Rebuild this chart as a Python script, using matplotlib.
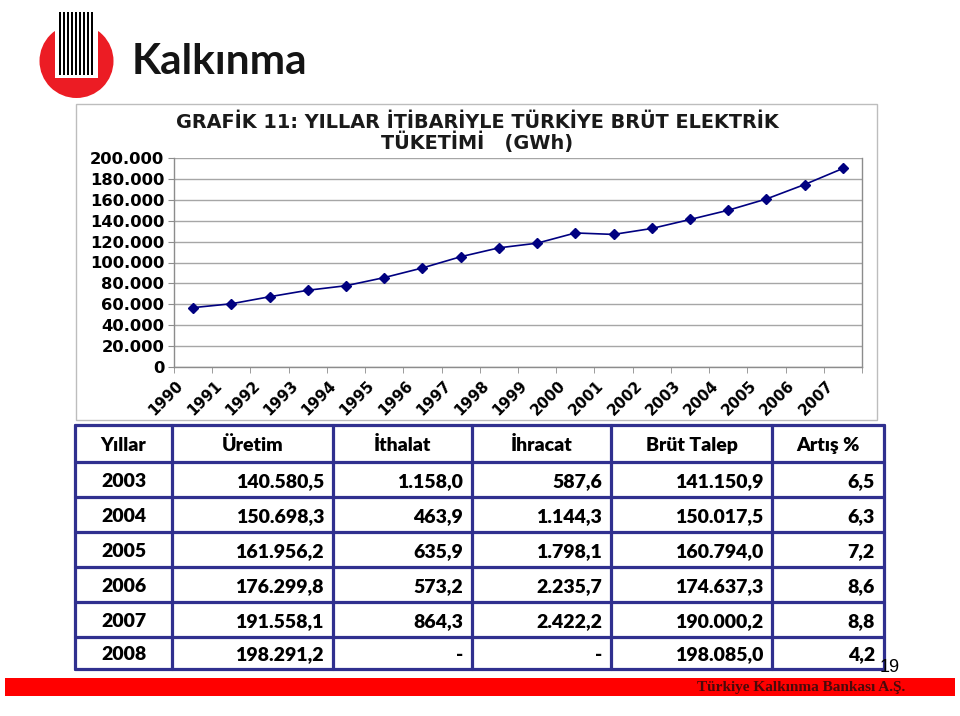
import matplotlib
matplotlib.use('Agg')
import matplotlib.pyplot as plt
from matplotlib.patches import Rectangle, Circle
from matplotlib.ticker import FuncFormatter
import matplotlib.transforms as mtransforms

# ---------------- data ----------------
years = [str(y) for y in range(1990, 2008)]
consumption = [56812, 60499, 67217, 73432, 77783, 85552, 94789, 105517, 114023,
               118485, 128276, 126871, 132553, 141151, 150018, 160794, 174637, 190000]
y_ticks = list(range(0, 200001, 20000))

chart_title_1 = 'GRAFİK 11: YILLAR İTİBARİYLE TÜRKİYE BRÜT ELEKTRİK'
chart_title_2 = 'TÜKETİMİ   (GWh)'

table_header = ['Yıllar', 'Üretim', 'İthalat', 'İhracat', 'Brüt Talep', 'Artış %']
table_years = ['2003', '2004', '2005', '2006', '2007', '2008']
uretim = ['140.580,5', '150.698,3', '161.956,2', '176.299,8', '191.558,1', '198.291,2']
ithalat = ['1.158,0', '463,9', '635,9', '573,2', '864,3', '-']
ihracat = ['587,6', '1.144,3', '1.798,1', '2.235,7', '2.422,2', '-']
brut_talep = ['141.150,9', '150.017,5', '160.794,0', '174.637,3', '190.000,2', '198.085,0']
artis = ['6,5', '6,3', '7,2', '8,6', '8,8', '4,2']

page_number = '19'
footer_text = 'Türkiye Kalkınma Bankası A.Ş.'
logo_text = 'Kalkınma'

# ---------------- figure ----------------
W, H = 960, 716
plt.rcParams['font.family'] = ['DejaVu Sans']
fig = plt.figure(figsize=(W / 100, H / 100), dpi=100)
fig.patch.set_facecolor('white')

bg = fig.add_axes([0, 0, 1, 1])
bg.set_xlim(0, W)
bg.set_ylim(H, 0)
bg.axis('off')

# logo
bg.add_patch(Circle((76.5, 61), 37, facecolor='#EC1C24', edgecolor='none'))
bg.add_patch(Rectangle((55, 10), 43, 68, facecolor='white', edgecolor='none'))
for i in range(9):
    bg.add_patch(Rectangle((58.8 + i * 4.0, 12), 2.2, 63, facecolor='black', edgecolor='none'))
bg.text(132, 74, logo_text, fontsize=30.5, fontweight='bold', family=['Lato', 'DejaVu Sans'],
        color='#141414', ha='left', va='baseline')

# chart frame
bg.add_patch(Rectangle((76, 104), 801, 316, facecolor='white', edgecolor='#BDBDBD', lw=1))
bg.text(477, 123, chart_title_1, fontsize=13.9, fontweight='bold', ha='center', va='center',
        color='#1a1a1a')
bg.text(477, 142, chart_title_2, fontsize=13.9, fontweight='bold', ha='center', va='center',
        color='#1a1a1a')

# ---------------- line chart ----------------
L, R, T, B = 174, 862, 158, 367
ax = fig.add_axes([L / W, 1 - B / H, (R - L) / W, (B - T) / H])
ax.set_facecolor('white')
x = list(range(len(years)))
ax.plot(x, consumption, color='#000080', lw=1.2, marker='D', ms=5,
        mfc='#000080', mec='#000080', zorder=3)
ax.set_xlim(-0.5, len(years) - 0.5)
ax.set_ylim(0, 200000)
ax.set_yticks(y_ticks)
ax.yaxis.set_major_formatter(FuncFormatter(lambda v, p: f'{int(v):,}'.replace(',', '.')))
ax.grid(axis='y', color='#A6A6A6', lw=1)
ax.set_axisbelow(True)
for s in ax.spines.values():
    s.set_color('#8C8C8C')
    s.set_linewidth(1)
ax.spines['top'].set_visible(False)

ax.set_xticks(x)
ax.set_xticklabels(years, rotation=45, ha='right', va='center', rotation_mode='anchor')
ax.set_xticks([i - 0.5 for i in range(len(years) + 1)], minor=True)
ax.tick_params(axis='x', which='major', length=0, pad=11.5, labelsize=10.8)
ax.tick_params(axis='x', which='minor', length=4, color='#8C8C8C')
ax.tick_params(axis='y', length=4, color='#8C8C8C', pad=3, labelsize=11.8)
off = mtransforms.ScaledTranslation(-0.12, 0, fig.dpi_scale_trans)
for lbl in ax.get_xticklabels():
    lbl.set_fontweight('bold')
    lbl.set_transform(lbl.get_transform() + off)
for lbl in ax.get_yticklabels():
    lbl.set_fontweight('bold')

# ---------------- table ----------------
col_x = [75, 172, 333, 472, 611, 772, 884]
row_y = [425, 462, 497, 532, 567, 602, 637, 669]
line_c = '#30308F'
lw_t = 2.3
for cx in col_x:
    bg.plot([cx, cx], [row_y[0], row_y[-1]], color=line_c, lw=lw_t, solid_capstyle='round')
for ry in row_y:
    bg.plot([col_x[0], col_x[-1]], [ry, ry], color=line_c, lw=lw_t, solid_capstyle='round')

tfont = dict(fontsize=14, fontweight='heavy', family=['Lato', 'DejaVu Sans'], color='black')
base_off = 7.5
for j, h in enumerate(table_header):
    bg.text((col_x[j] + col_x[j + 1]) / 2, (row_y[0] + row_y[1]) / 2 + base_off, h,
            ha='center', va='baseline', **tfont)

columns = [table_years, uretim, ithalat, ihracat, brut_talep, artis]
for j, col in enumerate(columns):
    for i, val in enumerate(col):
        yb = (row_y[i + 1] + row_y[i + 2]) / 2 + base_off
        if j == 0:
            bg.text((col_x[0] + col_x[1]) / 2, yb, val, ha='center', va='baseline', **tfont)
        else:
            bg.text(col_x[j + 1] - 9, yb, val, ha='right', va='baseline', **tfont)

# page number
bg.text(880, 667, page_number, fontsize=13, family=['Liberation Sans', 'DejaVu Sans'],
        ha='left', va='center', color='black')

# footer band
bg.add_patch(Rectangle((5, 678), 950, 18, facecolor='#FF0000', edgecolor='none'))
bg.text(905, 688, footer_text, fontsize=11, fontweight='bold',
        family=['Liberation Serif', 'DejaVu Serif'], color='#4A0A0A', ha='right', va='center')

fig.savefig('out.png', dpi=100, facecolor='white')
